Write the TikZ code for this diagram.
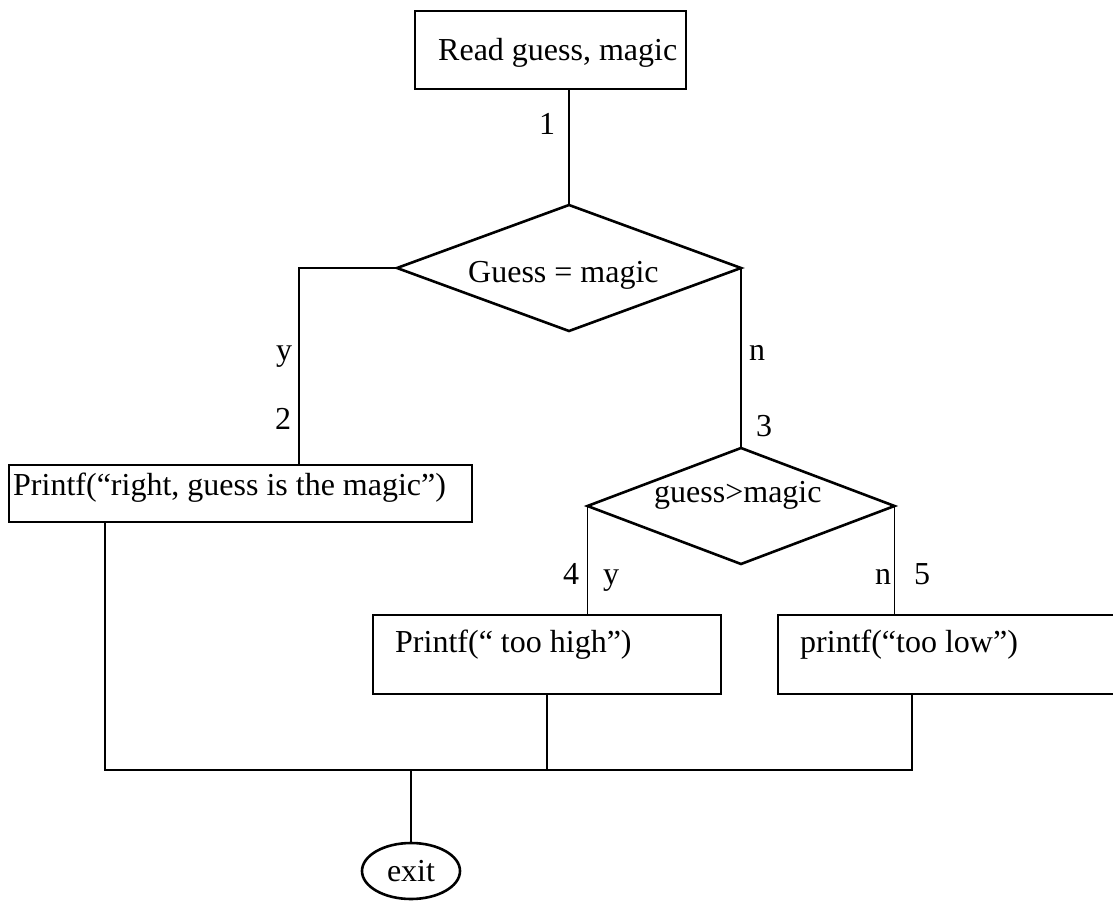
\documentclass[tikz,border=0pt]{standalone}
\usepackage{fontspec}
\setmainfont{Liberation Serif}
\usetikzlibrary{shapes.geometric}
\begin{document}
\begin{tikzpicture}[x=1pt,y=-1pt,
  outline/.style={draw=black, line width=2.6pt},
  stepbox/.style={outline, rectangle, inner sep=0pt, outer sep=0pt},
  decision/.style={outline, diamond, inner sep=0pt, outer sep=0pt},
  terminal/.style={outline, ellipse, inner sep=0pt, outer sep=0pt},
  flow/.style={draw=black, line width=1.9pt},
  txt/.style={inner sep=0pt, font=\fontsize{32pt}{38pt}\selectfont},
]
\useasboundingbox (0,0) rectangle (1113,901);
\clip (0,0) rectangle (1113,901);

% process boxes and decisions
\node[stepbox, minimum width=271pt, minimum height=78pt] (read) at (550.5,50) {};
\node[decision, minimum width=344pt, minimum height=126pt] (d1) at (569,268) {};
\node[stepbox, minimum width=463pt, minimum height=57pt] (pr) at (240.5,493.5) {};
\node[decision, minimum width=307pt, minimum height=116pt] (d2) at (741,506) {};
\node[stepbox, minimum width=348pt, minimum height=79pt] (hi) at (547,654.5) {};
\node[stepbox, minimum width=350pt, minimum height=79pt] (lo) at (953,654.5) {};
\node[terminal, minimum width=98pt, minimum height=56pt, txt] (ex) at (411,871) {exit};

% texts inside the shapes
\node[txt, anchor=base west] (readt) at (438,61) {Read guess, magic};
\node[txt, anchor=base west] (d1t) at (468,282) {Guess = magic};
\node[txt, anchor=base west] (d2t) at (654,502) {guess>magic};
\node[txt, anchor=base west] (prt) at (13,495) {Printf(“right, guess is the magic”)};
\node[txt, anchor=base west] (hit) at (395,652) {Printf(“ too high”)};
\node[txt, anchor=base west] (lot) at (800,652) {printf(“too low”)};

% junction points of the merge line
\coordinate (jl) at (105,770);
\coordinate (jm) at (411,770);
\coordinate (jr) at (912,770);

% connectors
\draw[flow] (d1.north |- read.south) -- (d1.north);
\draw[flow] (d1.west) -| ([xshift=58.5pt]pr.north);
\draw[flow] (d1.east) -- (d2.north);
\draw[flow] (d2.west) -- (d2.west |- hi.north);
\draw[flow] (d2.east) -- (d2.east |- lo.north);
\draw[flow] (pr.south -| jl) -- (jl) -- (jr) -- (jr |- lo.south);
\draw[flow] (hi.south) -- (hi.south |- jl);
\draw[flow] (jm) -- (ex.north);

% edge labels
\node[txt, anchor=base] (l1) at (547,135) {1};
\node[txt, anchor=base] (ly1) at (284,360) {y};
\node[txt, anchor=base] (l2) at (283,429) {2};
\node[txt, anchor=base] (ln1) at (757,360) {n};
\node[txt, anchor=base] (l3) at (764,436) {3};
\node[txt, anchor=base] (l4) at (571,584) {4};
\node[txt, anchor=base] (ly2) at (611,584) {y};
\node[txt, anchor=base] (ln2) at (883,584) {n};
\node[txt, anchor=base] (l5) at (922,584) {5};
\end{tikzpicture}
\end{document}
